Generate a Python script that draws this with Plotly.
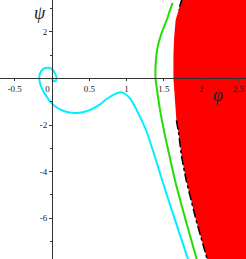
import plotly.graph_objects as go

# cyan trajectory (phi, psi)
cyan_phi = [0.01, 0.01, 0.04, 0.063, 0.04, -0.004, -0.063, -0.117, -0.161, -0.170, -0.138, -0.071, 0.0,
            0.10, 0.20, 0.335, 0.45, 0.555, 0.65, 0.734, 0.868, 0.935, 1.002, 1.06, 1.114, 1.19, 1.27,
            1.40, 1.534, 1.68, 1.84]
cyan_psi = [0.05, -0.08, -0.11, 0.01, 0.22, 0.41, 0.46, 0.41, 0.22, -0.06, -0.41, -0.78, -1.08,
            -1.32, -1.44, -1.48, -1.42, -1.28, -1.10, -0.88, -0.64, -0.59, -0.71, -0.92, -1.21, -1.70, -2.28,
            -3.55, -4.93, -6.35, -7.9]

# green trajectory
green_phi = [1.62, 1.58, 1.54, 1.47, 1.41, 1.39, 1.39, 1.41, 1.45, 1.52, 1.58, 1.65, 1.80, 1.955]
green_psi = [3.25, 2.90, 2.51, 1.94, 1.22, 0.51, 0.0, -0.49, -1.35, -2.50, -3.36, -4.36, -6.15, -7.9]

# boundary of forbidden (red) region
bound_phi = [1.75, 1.74, 1.70, 1.66, 1.64, 1.63, 1.63, 1.64, 1.65, 1.67, 1.70, 1.74, 1.80, 1.94, 2.095]
bound_psi = [3.45, 3.37, 2.94, 2.51, 1.79, 1.0, 0.0, -0.5, -1.06, -1.8, -2.35, -3.36, -4.36, -6.15, -7.9]

x_ticks = [-0.5, 0, 0.5, 1, 1.5, 2, 2.5]
x_ticklabels = ["-0.5", "0\u2002\u2002", "0.5", "1", "1.5", "2", "2.5"]
y_ticks = [-6, -4, -2, 2]
y_ticklabels = ["-6", "-4", "-2", "2"]

x_range = [-0.698, 2.604]
y_range = [-7.75, 3.37]

fig = go.Figure()

# red region
fig.add_trace(go.Scatter(
    x=bound_phi + [3.0, 3.0], y=bound_psi + [-7.9, 3.45],
    fill="toself", fillcolor="#FF0000", mode="lines", line=dict(width=0),
    hoverinfo="skip", showlegend=False))

# dash-dot boundary (visible on top and lower parts)
dd_x = bound_phi[:3] + [None] + bound_phi[9:]
dd_y = bound_psi[:3] + [None] + bound_psi[9:]
fig.add_trace(go.Scatter(x=dd_x, y=dd_y, mode="lines",
                         line=dict(color="black", width=1.5, dash="dashdot"),
                         showlegend=False))

fig.add_trace(go.Scatter(x=cyan_phi, y=cyan_psi, mode="lines",
                         line=dict(color="#00F0FF", width=2, shape="spline", smoothing=0.8),
                         showlegend=False))
fig.add_trace(go.Scatter(x=green_phi, y=green_psi, mode="lines",
                         line=dict(color="#22DD00", width=2, shape="spline", smoothing=0.8),
                         showlegend=False))

xpos = (0 - y_range[0]) / (y_range[1] - y_range[0])
ypos = (0 - x_range[0]) / (x_range[1] - x_range[0])

tickfont = dict(family="Liberation Serif", size=9, color="#222222")

fig.update_layout(
    width=246, height=259,
    margin=dict(l=0, r=0, t=0, b=0, pad=0, autoexpand=False),
    paper_bgcolor="white", plot_bgcolor="white",
    xaxis=dict(range=x_range, showgrid=False, zeroline=False, automargin=False,
               showline=True, linecolor="#333333", linewidth=1,
               anchor="free", position=xpos,
               tickvals=x_ticks, ticktext=x_ticklabels,
               ticks="outside", ticklen=2, tickcolor="#333333",
               tickfont=tickfont),
    yaxis=dict(range=y_range, showgrid=False, zeroline=False, automargin=False,
               showline=True, linecolor="#333333", linewidth=1,
               anchor="free", position=ypos,
               tickvals=y_ticks, ticktext=y_ticklabels,
               ticks="outside", ticklen=3, tickcolor="#333333",
               tickfont=tickfont,
               minor=dict(tickvals=[-7, -5, -3, -1, 1, 3], ticks="outside", ticklen=2,
                          tickcolor="#333333")),
    annotations=[
        dict(x=-0.16, y=2.8, text="<i>ψ</i>", showarrow=False,
             font=dict(family="Liberation Serif", size=18, color="#222222")),
        dict(x=2.23, y=-0.7, text="<i>φ</i>", showarrow=False,
             font=dict(family="Liberation Serif", size=18, color="#222222")),
    ],
)

fig.write_html("out.html", config={"displayModeBar": False},
               post_script="document.body.style.margin='0';document.body.style.overflow='hidden';")
